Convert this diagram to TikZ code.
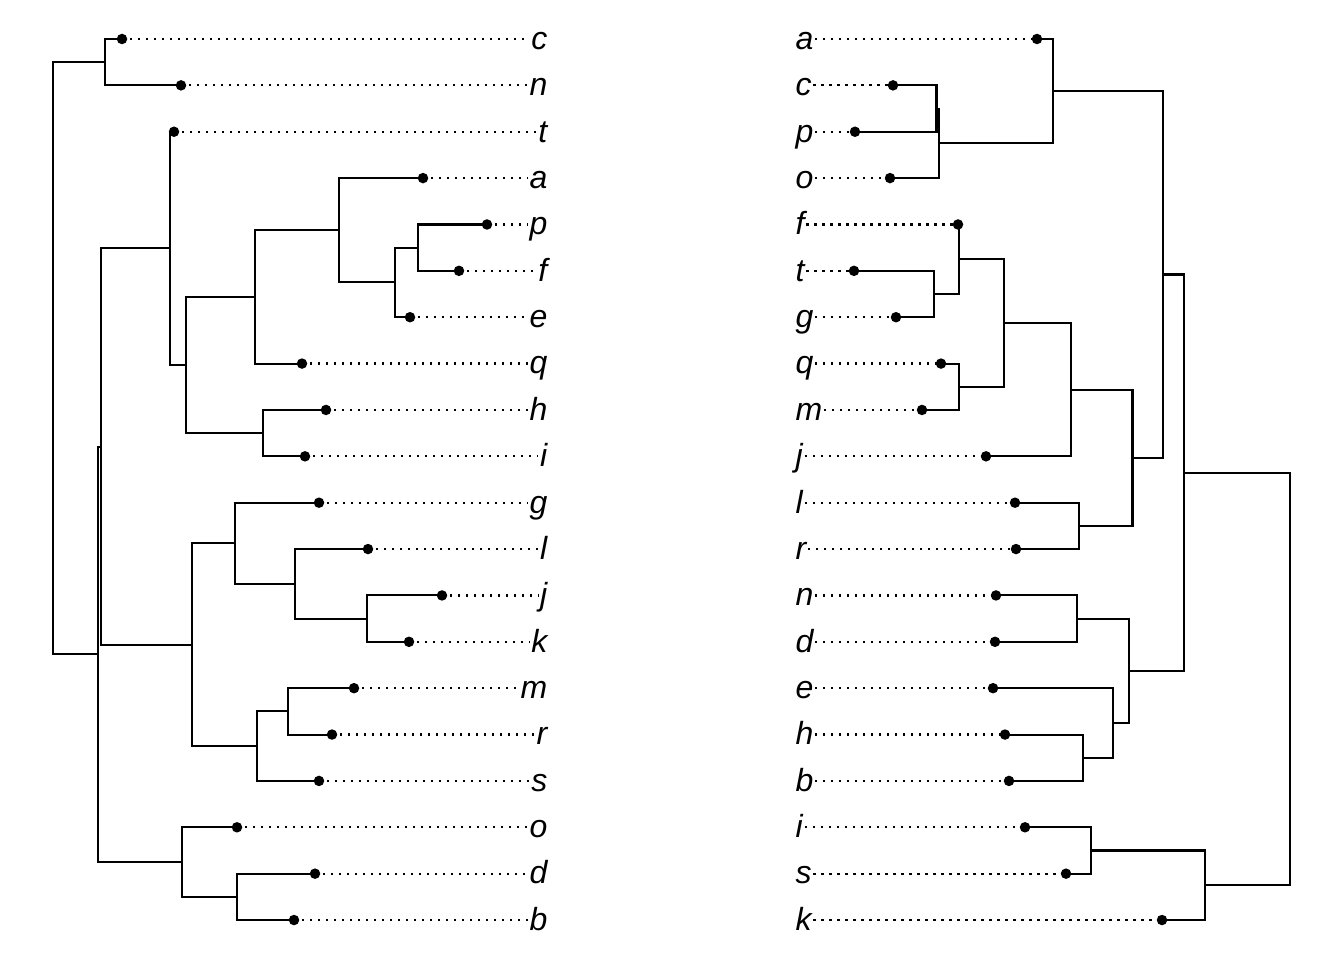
\documentclass[tikz,border=0pt]{standalone}
\usepackage{fontspec}
\setmainfont{Liberation Sans}
\begin{document}
\begin{tikzpicture}[x=1pt,y=-1pt,
  tree/.style={line width=2.1pt},
  dots/.style={line width=2.2pt, dash pattern=on 2.2pt off 5.8pt},
  leafdot/.style={circle, fill=black, inner sep=0pt, minimum size=10.5pt},
  lab/.style={font=\fontsize{32}{36}\selectfont\itshape, inner sep=1.5pt}]
\useasboundingbox (0,0) rectangle (1344,960);
% ---------- left leaves ----------
\foreach \nm/\xp/\idx in {c/122/0,n/181/1,t/174/2,a/423/3,p/487/4,f/459/5,e/410/6,q/302/7,h/326/8,i/305/9,g/319/10,l/368/11,j/442/12,k/409/13,m/354/14,r/332/15,s/319/16,o/237/17,d/315/18,b/294/19}{
  \coordinate (L\nm) at (\xp,{39+46.37*\idx});
  \node[lab, anchor=base east] (tL\nm) at (549,{49.3+46.37*\idx}) {\nm};
  \draw[dots] (L\nm) -- (tL\nm.west |- L\nm);
}
% ---------- right leaves ----------
\foreach \nm/\xp/\idx in {a/1037/0,c/893/1,p/855/2,o/890/3,f/958/4,t/854/5,g/896/6,q/941/7,m/922/8,j/986/9,l/1015/10,r/1016/11,n/996/12,d/995/13,e/993/14,h/1005/15,b/1009/16,i/1025/17,s/1066/18,k/1162/19}{
  \coordinate (R\nm) at (\xp,{39+46.37*\idx});
  \node[lab, anchor=base west] (tR\nm) at (794,{49.3+46.37*\idx}) {\nm};
  \draw[dots] (tR\nm.east |- R\nm) -- (R\nm);
}
% ---------- left internal nodes ----------
\coordinate (lCN) at (105,62.2);
\coordinate (lPF) at (418,247.6);
\coordinate (lPFE) at (395,282.4);
\coordinate (lAPFE) at (339,230.3);
\coordinate (lAPFEQ) at (255,296.9);
\coordinate (lHI) at (263,433.2);
\coordinate (lA1) at (186,365.0);
\coordinate (lTA1) at (170,248.4);
\coordinate (lJK) at (367,618.6);
\coordinate (lLJK) at (295,583.9);
\coordinate (lGLJK) at (235,543.3);
\coordinate (lMR) at (288,711.4);
\coordinate (lMRS) at (257,746.2);
\coordinate (lB) at (192,644.7);
\coordinate (lTB) at (101,446.6);
\coordinate (lDB) at (237,896.8);
\coordinate (lODB) at (182,862.1);
\coordinate (lTBODB) at (98,654.3);
\coordinate (lROOT) at (53,358.3);
\draw[tree] (lCN) |- (Lc) (lCN) |- (Ln);
\draw[tree] (lPF) |- (Lp) (lPF) |- (Lf);
\draw[tree] (lPFE) |- (lPF) (lPFE) |- (Le);
\draw[tree] (lAPFE) |- (La) (lAPFE) |- (lPFE);
\draw[tree] (lAPFEQ) |- (lAPFE) (lAPFEQ) |- (Lq);
\draw[tree] (lHI) |- (Lh) (lHI) |- (Li);
\draw[tree] (lA1) |- (lAPFEQ) (lA1) |- (lHI);
\draw[tree] (lTA1) |- (Lt) (lTA1) |- (lA1);
\draw[tree] (lJK) |- (Lj) (lJK) |- (Lk);
\draw[tree] (lLJK) |- (Ll) (lLJK) |- (lJK);
\draw[tree] (lGLJK) |- (Lg) (lGLJK) |- (lLJK);
\draw[tree] (lMR) |- (Lm) (lMR) |- (Lr);
\draw[tree] (lMRS) |- (lMR) (lMRS) |- (Ls);
\draw[tree] (lB) |- (lGLJK) (lB) |- (lMRS);
\draw[tree] (lTB) |- (lTA1) (lTB) |- (lB);
\draw[tree] (lDB) |- (Ld) (lDB) |- (Lb);
\draw[tree] (lODB) |- (Lo) (lODB) |- (lDB);
\draw[tree] (lTBODB) |- (lTB) (lTBODB) |- (lODB);
\draw[tree] (lROOT) |- (lCN) (lROOT) |- (lTBODB);
% ---------- right internal nodes ----------
\coordinate (rCP) at (936.5,108.6);
\coordinate (rCPO) at (939,143.3);
\coordinate (rACPO) at (1053,91.2);
\coordinate (rTG) at (934,294.0);
\coordinate (rFTG) at (959,259.3);
\coordinate (rQM) at (959,386.8);
\coordinate (rFTGQM) at (1004,323.0);
\coordinate (rC) at (1071,389.7);
\coordinate (rLR) at (1079,525.9);
\coordinate (rCLR) at (1132.5,457.8);
\coordinate (rACPOCLR) at (1163,274.5);
\coordinate (rND) at (1077,618.6);
\coordinate (rHB) at (1083,757.8);
\coordinate (rEHB) at (1113,723.0);
\coordinate (rNDEHB) at (1129,670.8);
\coordinate (rD) at (1184,472.7);
\coordinate (rIS) at (1091,850.5);
\coordinate (rISK) at (1205,885.3);
\coordinate (rROOT) at (1290,679.0);
\draw[tree] (rCP) |- (Rc) (rCP) |- (Rp);
\draw[tree] (rCPO) |- (rCP) (rCPO) |- (Ro);
\draw[tree] (rACPO) |- (Ra) (rACPO) |- (rCPO);
\draw[tree] (rTG) |- (Rt) (rTG) |- (Rg);
\draw[tree] (rFTG) |- (Rf) (rFTG) |- (rTG);
\draw[tree] (rQM) |- (Rq) (rQM) |- (Rm);
\draw[tree] (rFTGQM) |- (rFTG) (rFTGQM) |- (rQM);
\draw[tree] (rC) |- (rFTGQM) (rC) |- (Rj);
\draw[tree] (rLR) |- (Rl) (rLR) |- (Rr);
\draw[tree] (rCLR) |- (rC) (rCLR) |- (rLR);
\draw[tree] (rACPOCLR) |- (rACPO) (rACPOCLR) |- (rCLR);
\draw[tree] (rND) |- (Rn) (rND) |- (Rd);
\draw[tree] (rHB) |- (Rh) (rHB) |- (Rb);
\draw[tree] (rEHB) |- (Re) (rEHB) |- (rHB);
\draw[tree] (rNDEHB) |- (rND) (rNDEHB) |- (rEHB);
\draw[tree] (rD) |- (rACPOCLR) (rD) |- (rNDEHB);
\draw[tree] (rIS) |- (Ri) (rIS) |- (Rs);
\draw[tree] (rISK) |- (rIS) (rISK) |- (Rk);
\draw[tree] (rROOT) |- (rD) (rROOT) |- (rISK);
% ---------- leaf dots ----------
\foreach \nm in {a,b,c,d,e,f,g,h,i,j,k,l,m,n,o,p,q,r,s,t}{
  \node[leafdot] (dL\nm) at (L\nm) {};
  \node[leafdot] (dR\nm) at (R\nm) {};
}
\end{tikzpicture}
\end{document}
